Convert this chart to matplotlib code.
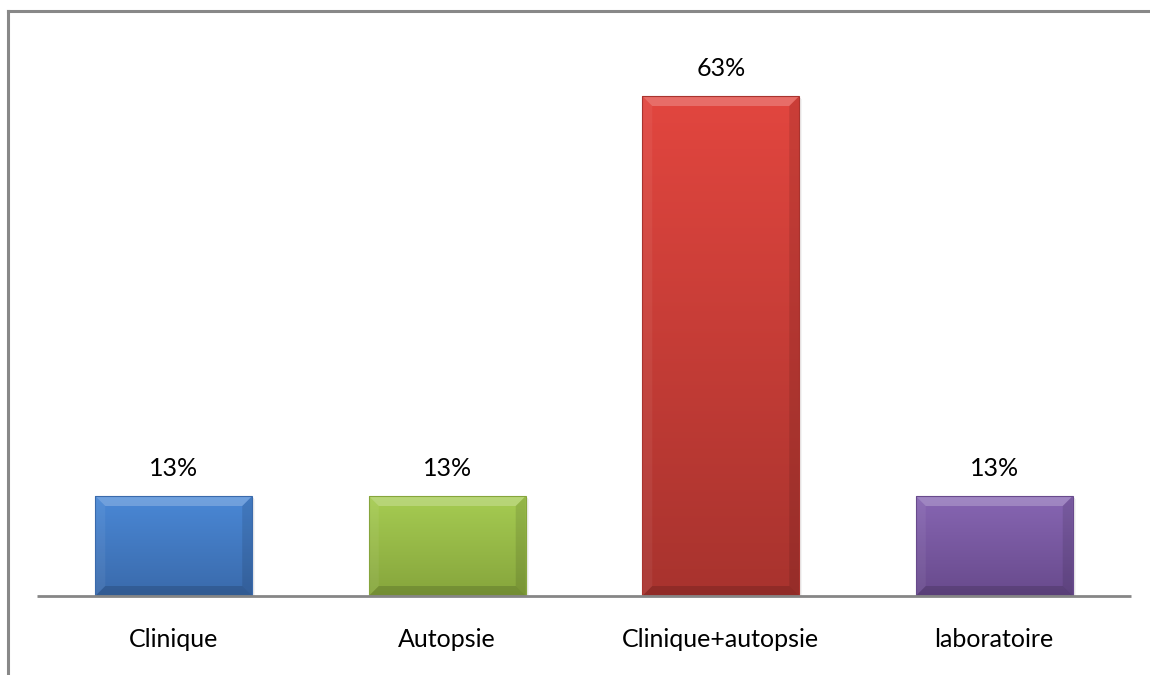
import numpy as np
import matplotlib
matplotlib.use("Agg")
import matplotlib.pyplot as plt
from matplotlib.patches import Polygon, Rectangle
from matplotlib.lines import Line2D
from matplotlib.colors import to_rgb

# données
categories = ["Clinique", "Autopsie", "Clinique+autopsie", "laboratoire"]
valeurs = [12.5, 12.5, 62.5, 12.5]
etiquettes = ["13%", "13%", "63%", "13%"]
couleurs_haut = ["#4a88d6", "#a6cc52", "#e2463f", "#8766b3"]
couleurs_bas = ["#3a6aab", "#86a53c", "#a8332e", "#684a8c"]

plt.rcParams['font.family'] = ['Lato', 'DejaVu Sans']

W, H = 1150, 675
fig = plt.figure(figsize=(W / 100, H / 100), dpi=100)
fig.patch.set_facecolor("white")

# cadre extérieur (gauche + haut)
fig.add_artist(Line2D([7.5 / W, 7.5 / W], [0, 1 - 10.5 / H], transform=fig.transFigure,
                      color="#888888", lw=2.2))
fig.add_artist(Line2D([7.5 / W, 1], [1 - 10.5 / H, 1 - 10.5 / H], transform=fig.transFigure,
                      color="#888888", lw=2.2))

ax = fig.add_axes([37 / W, (H - 596) / H, 1094 / W, 560 / H])
ax.set_xlim(-0.5, 3.5)
ax.set_ylim(0, 70)
ax.axis("off")

largeur = 0.574
# taille d'un pixel en unités de données
px_x = 4.0 / 1094
px_y = 70.0 / 560
biseau = 10

for i, (v, ch, cb) in enumerate(zip(valeurs, couleurs_haut, couleurs_bas)):
    x0 = i - largeur / 2
    x1 = i + largeur / 2
    # ombre légère à droite
    for k, a in enumerate([0.35, 0.2, 0.1]):
        ax.add_patch(Rectangle((x1 + k * px_x, 0), px_x, v - (k + 1) * px_y,
                               facecolor="#9a9a9a", edgecolor="none", alpha=a, zorder=1))
    rect = Rectangle((x0, 0), largeur, v, facecolor=ch, edgecolor="none", zorder=2)
    ax.add_patch(rect)
    # dégradé vertical
    c1 = np.array(to_rgb(ch))
    c2 = np.array(to_rgb(cb))
    t = np.linspace(0, 1, 200)[:, None]
    grad = (c1[None, :] * (1 - t) + c2[None, :] * t)[:, None, :]
    im = ax.imshow(grad, extent=[x0, x1, 0, v], origin="upper", aspect="auto", zorder=3)
    im.set_clip_path(rect)
    # biseau
    bx = biseau * px_x
    by = biseau * px_y
    haut = Polygon([[x0, v], [x1, v], [x1 - bx, v - by], [x0 + bx, v - by]],
                   facecolor="white", alpha=0.22, edgecolor="none", zorder=4)
    bas = Polygon([[x0, 0], [x1, 0], [x1 - bx, by], [x0 + bx, by]],
                  facecolor="black", alpha=0.14, edgecolor="none", zorder=4)
    gauche = Polygon([[x0, 0], [x0, v], [x0 + bx, v - by], [x0 + bx, by]],
                     facecolor="white", alpha=0.06, edgecolor="none", zorder=4)
    droite = Polygon([[x1, 0], [x1, v], [x1 - bx, v - by], [x1 - bx, by]],
                     facecolor="black", alpha=0.1, edgecolor="none", zorder=4)
    for p in (haut, bas, gauche, droite):
        ax.add_patch(p)
    ax.add_patch(Rectangle((x0, 0), largeur, v, facecolor="none", edgecolor=cb,
                           lw=0.8, zorder=5))
    ax.text(i, v + 2.0, etiquettes[i], ha="center", va="bottom", fontsize=18, color="black")
    ax.text(i, -4.0, categories[i], ha="center", va="top", fontsize=18, color="black",
            clip_on=False)

# axe horizontal
ax.plot([-0.5, 3.5], [0, 0], color="#868686", lw=2, zorder=6, clip_on=False,
        solid_capstyle="butt")

fig.savefig("out.png", dpi=100)
